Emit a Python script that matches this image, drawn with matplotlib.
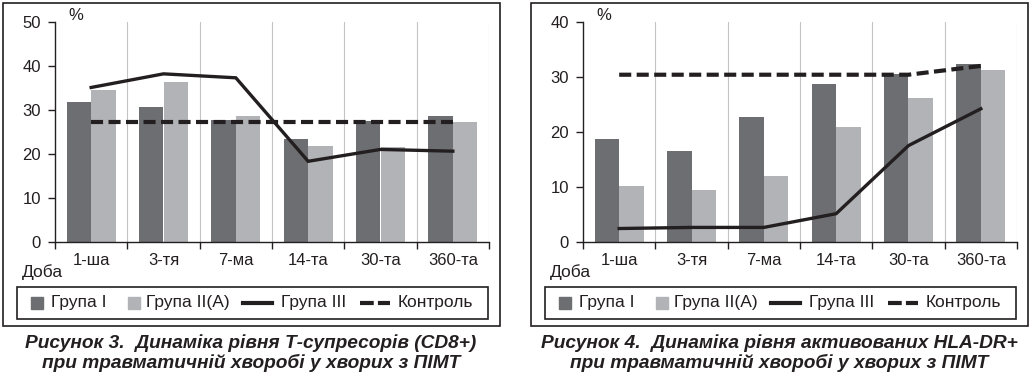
import matplotlib
matplotlib.use('Agg')
import matplotlib.pyplot as plt
from matplotlib.patches import Rectangle
from matplotlib.lines import Line2D

plt.rcParams['font.family'] = ['Liberation Sans', 'DejaVu Sans']

# дані
days = ['1-ша', '3-тя', '7-ма', '14-та', '30-та', '360-та']

cd8_g1 = [31.8, 30.6, 27.6, 23.4, 27.5, 28.6]
cd8_g2 = [34.5, 36.3, 28.6, 21.8, 21.5, 27.2]
cd8_g3 = [35.1, 38.2, 37.3, 18.3, 21.0, 20.6]
cd8_ctrl = [27.2, 27.2, 27.2, 27.2, 27.2, 27.2]

hla_g1 = [18.7, 16.5, 22.7, 28.7, 30.5, 32.4]
hla_g2 = [10.1, 9.4, 12.0, 20.9, 26.2, 31.3]
hla_g3 = [2.4, 2.6, 2.6, 5.1, 17.5, 24.2]
hla_ctrl = [30.4, 30.4, 30.4, 30.4, 30.4, 32.0]

legend_labels = ['Група I', 'Група II(A)', 'Група III', 'Контроль']
captions = ['Рисунок 3.  Динаміка рівня Т-супресорів (CD8+)\nпри травматичній хворобі у хворих з ПІМТ',
            'Рисунок 4.  Динаміка рівня активованих HLA-DR+\nпри травматичній хворобі у хворих з ПІМТ']

DARK = '#6d6e71'
LIGHT = '#b2b3b6'
INK = '#231f20'
GRID = '#c4c4c4'

W, H = 1033, 376
fig = plt.figure(figsize=(W/100, H/100), dpi=100)


def fx(px):
	return px/W


def fy(py):
	return 1-py/H


def panel(x0, g1, g2, g3, ctrl, ymax, caption):
	'''одна панель: рамка, графік, легенда, підпис'''
	off = x0-55
	ax = fig.add_axes([fx(55+off), fy(241.7), fx(434), (241.7-22)/H])
	x = list(range(len(days)))
	bw = 0.34
	ax.bar([i-bw/2 for i in x], g1, bw, color=DARK, zorder=2)
	ax.bar([i+bw/2 for i in x], g2, bw, color=LIGHT, zorder=2)
	ax.plot(x, ctrl, color=INK, lw=3.0, dashes=(2.9, 1.3), zorder=3)
	ax.plot(x, g3, color=INK, lw=2.4, solid_joinstyle='miter', zorder=4)

	ax.set_xlim(-0.5, 5.5)
	ax.set_ylim(0, ymax)
	for b in [0.5, 1.5, 2.5, 3.5, 4.5, 5.5]:
		ax.axvline(b, color=GRID, lw=0.8, zorder=1)
	for s in ['top', 'right']:
		ax.spines[s].set_visible(False)
	ax.spines['left'].set_color(INK)
	ax.spines['bottom'].set_color(INK)
	ax.spines['left'].set_linewidth(1.0)
	ax.spines['bottom'].set_linewidth(1.0)

	ax.set_yticks(range(0, ymax+1, 10))
	ax.tick_params(axis='y', direction='out', length=5, width=1.0, pad=5,
				   labelsize=12, colors=INK)
	ax.set_xticks([-0.5, 0.5, 1.5, 2.5, 3.5, 4.5, 5.5])
	ax.set_xticklabels([])
	ax.set_xticks(x, minor=True)
	ax.set_xticklabels(days, minor=True)
	ax.tick_params(axis='x', which='major', direction='out', length=5, width=1.0, colors=INK)
	ax.tick_params(axis='x', which='minor', length=0, pad=8, labelsize=12, labelcolor=INK)

	fig.text(fx(68+off), fy(16), '%', fontsize=12, color=INK, va='center', ha='left')
	fig.text(fx(22+off), fy(272), 'Доба', fontsize=12.5, color=INK, va='center', ha='left')

	# зовнішня рамка
	fig.patches.append(Rectangle((fx(3+off), fy(326)), fx(497), (326-3)/H,
								 transform=fig.transFigure, fill=False, ec=INK, lw=1.2))
	# легенда
	fig.patches.append(Rectangle((fx(17+off), fy(319)), fx(471), (319-287)/H,
								 transform=fig.transFigure, fill=False, ec=INK, lw=1.2))
	ly = fy(303)
	fig.patches.append(Rectangle((fx(31+off), fy(309)), fx(12), 12/H,
								 transform=fig.transFigure, color=DARK))
	fig.patches.append(Rectangle((fx(128+off), fy(309)), fx(12), 12/H,
								 transform=fig.transFigure, color=LIGHT))
	fig.lines.append(Line2D([fx(243+off), fx(272+off)], [ly, ly], transform=fig.transFigure,
							color=INK, lw=3.0))
	fig.lines.append(Line2D([fx(360+off), fx(390+off)], [ly, ly], transform=fig.transFigure,
							color=INK, lw=3.0, dashes=(3.3, 1.0)))
	for px, lab in zip([51, 146, 281, 398], legend_labels):
		fig.text(fx(px+off), ly, lab, fontsize=12.5, color=INK, va='center', ha='left')

	fig.text(fx(251+off), fy(353), caption, fontsize=13.8, fontweight='bold', style='italic',
			 color=INK, ha='center', va='center', linespacing=1.1)


panel(55, cd8_g1, cd8_g2, cd8_g3, cd8_ctrl, 50, captions[0])
panel(583, hla_g1, hla_g2, hla_g3, hla_ctrl, 40, captions[1])

fig.savefig('out.png', dpi=100)
